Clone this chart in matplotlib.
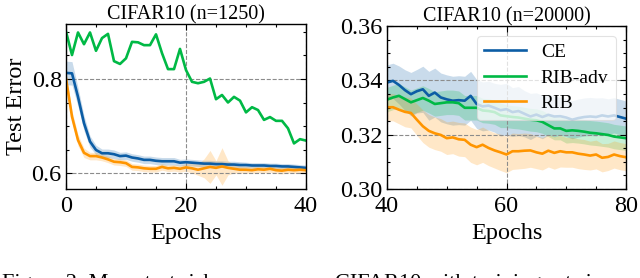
import matplotlib
matplotlib.use("Agg")
import matplotlib.pyplot as plt
from matplotlib.ticker import MultipleLocator, FormatStrFormatter
import numpy as np

# ---------------- data ----------------
epochs_small = list(range(0, 41))
ce_small = [0.813, 0.812, 0.762, 0.706, 0.667, 0.649, 0.642, 0.642, 0.640, 0.636,
            0.637, 0.633, 0.631, 0.628, 0.628, 0.626, 0.625, 0.625, 0.625, 0.622,
            0.623, 0.622, 0.621, 0.620, 0.620, 0.619, 0.619, 0.618, 0.618, 0.617,
            0.617, 0.616, 0.616, 0.616, 0.615, 0.615, 0.614, 0.614, 0.613, 0.612, 0.611]
ce_small_std = [0.025, 0.025, 0.02, 0.016, 0.012, 0.01, 0.009, 0.009, 0.009, 0.008,
                0.008, 0.008, 0.008, 0.008, 0.008, 0.008, 0.008, 0.008, 0.008, 0.007,
                0.007, 0.007, 0.007, 0.007, 0.007, 0.007, 0.007, 0.007, 0.007, 0.007,
                0.006, 0.006, 0.006, 0.006, 0.006, 0.006, 0.006, 0.006, 0.006, 0.006, 0.006]
ribadv_small = [0.901, 0.851, 0.899, 0.874, 0.899, 0.860, 0.887, 0.896, 0.838, 0.832,
                0.844, 0.879, 0.878, 0.872, 0.872, 0.895, 0.855, 0.821, 0.821, 0.864,
                0.819, 0.794, 0.791, 0.794, 0.801, 0.757, 0.766, 0.750, 0.762, 0.754,
                0.729, 0.740, 0.734, 0.713, 0.719, 0.711, 0.711, 0.695, 0.663, 0.672, 0.669]
rib_small = [0.801, 0.720, 0.670, 0.643, 0.636, 0.636, 0.633, 0.629, 0.624, 0.623,
             0.621, 0.613, 0.612, 0.610, 0.609, 0.609, 0.613, 0.610, 0.611, 0.609,
             0.612, 0.610, 0.607, 0.610, 0.613, 0.611, 0.614, 0.611, 0.609, 0.607,
             0.607, 0.606, 0.608, 0.607, 0.609, 0.606, 0.605, 0.607, 0.606, 0.607, 0.606]
rib_small_std = [0.01, 0.012, 0.012, 0.01, 0.008, 0.008, 0.007, 0.007, 0.007, 0.007,
                 0.007, 0.007, 0.007, 0.007, 0.007, 0.007, 0.007, 0.007, 0.007, 0.007,
                 0.008, 0.01, 0.012, 0.02, 0.035, 0.015, 0.04, 0.015, 0.009, 0.008,
                 0.007, 0.007, 0.007, 0.007, 0.007, 0.007, 0.007, 0.007, 0.007, 0.007, 0.007]

epochs_large = list(range(40, 81))
ce_large = [0.3392, 0.3398, 0.3383, 0.3364, 0.3349, 0.3360, 0.3367, 0.3343, 0.3355, 0.3337,
            0.3330, 0.3325, 0.3327, 0.3325, 0.3343, 0.3313, 0.3304, 0.3307, 0.3299, 0.3290,
            0.3294, 0.3283, 0.3287, 0.3277, 0.3267, 0.3274, 0.3265, 0.3273, 0.3267, 0.3268,
            0.3263, 0.3255, 0.3261, 0.3265, 0.3267, 0.3265, 0.3271, 0.3267, 0.3271, 0.3265, 0.3259]
ce_large_std = [0.0065, 0.0065, 0.007, 0.0075, 0.008, 0.008, 0.0085, 0.009, 0.009, 0.009,
                0.009, 0.009, 0.009, 0.009, 0.009, 0.009, 0.009, 0.009, 0.009, 0.0095,
                0.0095, 0.009, 0.009, 0.0085, 0.0085, 0.008, 0.008, 0.0075, 0.0075, 0.007,
                0.007, 0.007, 0.007, 0.007, 0.007, 0.007, 0.0065, 0.0065, 0.0065, 0.0065, 0.0065]
ribadv_large = [0.3329, 0.3337, 0.3343, 0.3331, 0.3319, 0.3327, 0.3335, 0.3325, 0.3313, 0.3316,
                0.3319, 0.3319, 0.3316, 0.3299, 0.3299, 0.3299, 0.3289, 0.3287, 0.3283, 0.3271,
                0.3268, 0.3265, 0.3263, 0.3259, 0.3255, 0.3253, 0.3247, 0.3235, 0.3223, 0.3223,
                0.3214, 0.3216, 0.3214, 0.3211, 0.3207, 0.3205, 0.3202, 0.3199, 0.3193, 0.3190, 0.3187]
ribadv_large_std = [0.0045, 0.0045, 0.0045, 0.0045, 0.0045, 0.0045, 0.0045, 0.0045, 0.0045, 0.0045,
                    0.0045, 0.0045, 0.0045, 0.0045, 0.0045, 0.0045, 0.0045, 0.0045, 0.0045, 0.0045,
                    0.0042, 0.0042, 0.0042, 0.0042, 0.0042, 0.0042, 0.0042, 0.0042, 0.0042, 0.0042,
                    0.0045, 0.0045, 0.0045, 0.0045, 0.0045, 0.0045, 0.0045, 0.0045, 0.0045, 0.0045, 0.0045]
rib_large = [0.3301, 0.3301, 0.3292, 0.3284, 0.3280, 0.3255, 0.3231, 0.3214, 0.3205, 0.3199,
             0.3187, 0.3190, 0.3183, 0.3181, 0.3163, 0.3154, 0.3163, 0.3151, 0.3142, 0.3135,
             0.3127, 0.3139, 0.3139, 0.3141, 0.3142, 0.3135, 0.3130, 0.3141, 0.3133, 0.3139,
             0.3135, 0.3135, 0.3130, 0.3127, 0.3123, 0.3127, 0.3115, 0.3118, 0.3127, 0.3121, 0.3117]
rib_large_std = [0.005, 0.005, 0.0052, 0.0055, 0.0055, 0.0058, 0.006, 0.006, 0.006, 0.006,
                 0.006, 0.006, 0.0062, 0.0062, 0.0065, 0.0065, 0.0065, 0.0065, 0.0065, 0.0067,
                 0.0067, 0.0067, 0.0065, 0.0065, 0.0062, 0.006, 0.006, 0.006, 0.006, 0.0058,
                 0.0055, 0.0055, 0.0055, 0.0055, 0.0053, 0.0053, 0.0052, 0.005, 0.005, 0.005, 0.005]

titles = ["CIFAR10 (n=1250)", "CIFAR10 (n=20000)"]
labels = ["CE", "RIB-adv", "RIB"]
colors = ["#0C5DA5", "#00B945", "#FF9500"]
caption_left = "Figure 2: Mean test risk curves on"
caption_right = "CIFAR10 with training set sizes"

plt.rcParams["font.family"] = ["Liberation Serif", "DejaVu Serif"]

fig = plt.figure(figsize=(6.4, 2.78), dpi=100)
W, H = 640, 278
axL = fig.add_axes([66 / W, (H - 189) / H, 240 / W, 165 / H])
axR = fig.add_axes([387 / W, (H - 189) / H, 239 / W, 163 / H])

TICK = 17.5
LAB = 17.5


def style(ax):
    ax.tick_params(which="both", direction="in", top=True, right=True,
                   labelsize=TICK, width=0.8)
    ax.tick_params(axis="x", which="both", pad=5)
    ax.tick_params(axis="y", which="both", pad=3)
    ax.tick_params(which="major", length=4)
    ax.tick_params(which="minor", length=2)
    for s in ax.spines.values():
        s.set_linewidth(1.0)
    ax.grid(True, which="major", linestyle="--", color="0.55", linewidth=0.8)


lw = 1.9
A = 0.22
# left panel
x = np.array(epochs_small)
m, s = np.array(ce_small), np.array(ce_small_std)
axL.fill_between(x, m - s, m + s, color=colors[0], alpha=A, lw=0)
axL.plot(x, m, color=colors[0], lw=lw)
axL.plot(x, ribadv_small, color=colors[1], lw=lw)
m, s = np.array(rib_small), np.array(rib_small_std)
axL.fill_between(x, m - s, m + s, color=colors[2], alpha=A, lw=0)
axL.plot(x, m, color=colors[2], lw=lw)
axL.set_xlim(0, 40)
axL.set_ylim(0.566, 0.917)
axL.xaxis.set_major_locator(MultipleLocator(20))
axL.xaxis.set_minor_locator(MultipleLocator(5))
axL.yaxis.set_major_locator(MultipleLocator(0.2))
axL.yaxis.set_minor_locator(MultipleLocator(0.05))
axL.set_title(titles[0], fontsize=14.5, pad=3)
axL.set_xlabel("Epochs", fontsize=LAB, labelpad=4)
axL.set_ylabel("Test Error", fontsize=LAB, labelpad=3)
style(axL)

# right panel
x = np.array(epochs_large)
for mean, std, c, lab in [(ce_large, ce_large_std, colors[0], labels[0]),
                          (ribadv_large, ribadv_large_std, colors[1], labels[1]),
                          (rib_large, rib_large_std, colors[2], labels[2])]:
    m, s = np.array(mean), np.array(std)
    axR.fill_between(x, m - s, m + s, color=c, alpha=A, lw=0)
    axR.plot(x, m, color=c, lw=lw, label=lab)
axR.set_xlim(40, 80)
axR.set_ylim(0.30, 0.36)
axR.xaxis.set_major_locator(MultipleLocator(20))
axR.xaxis.set_minor_locator(MultipleLocator(5))
axR.yaxis.set_major_locator(MultipleLocator(0.02))
axR.yaxis.set_minor_locator(MultipleLocator(0.005))
axR.yaxis.set_major_formatter(FormatStrFormatter("%.2f"))
axR.set_title(titles[1], fontsize=14.5, pad=3)
axR.set_xlabel("Epochs", fontsize=LAB, labelpad=4)
style(axR)
leg = axR.legend(loc="upper right", fontsize=14, handlelength=2.15, frameon=True,
                 fancybox=True, framealpha=0.75, edgecolor="0.85",
                 borderaxespad=0.5, labelspacing=0.4, handletextpad=0.75, borderpad=0.4)
leg.get_frame().set_linewidth(0.8)

# clipped caption (top of next text line in the source page)
fig.text(2 / W, -10 / H, caption_left, fontsize=16, ha="left", va="baseline")
fig.text(335 / W, -10 / H, caption_right, fontsize=16, ha="left", va="baseline")

fig.savefig("out.png", dpi=100)
